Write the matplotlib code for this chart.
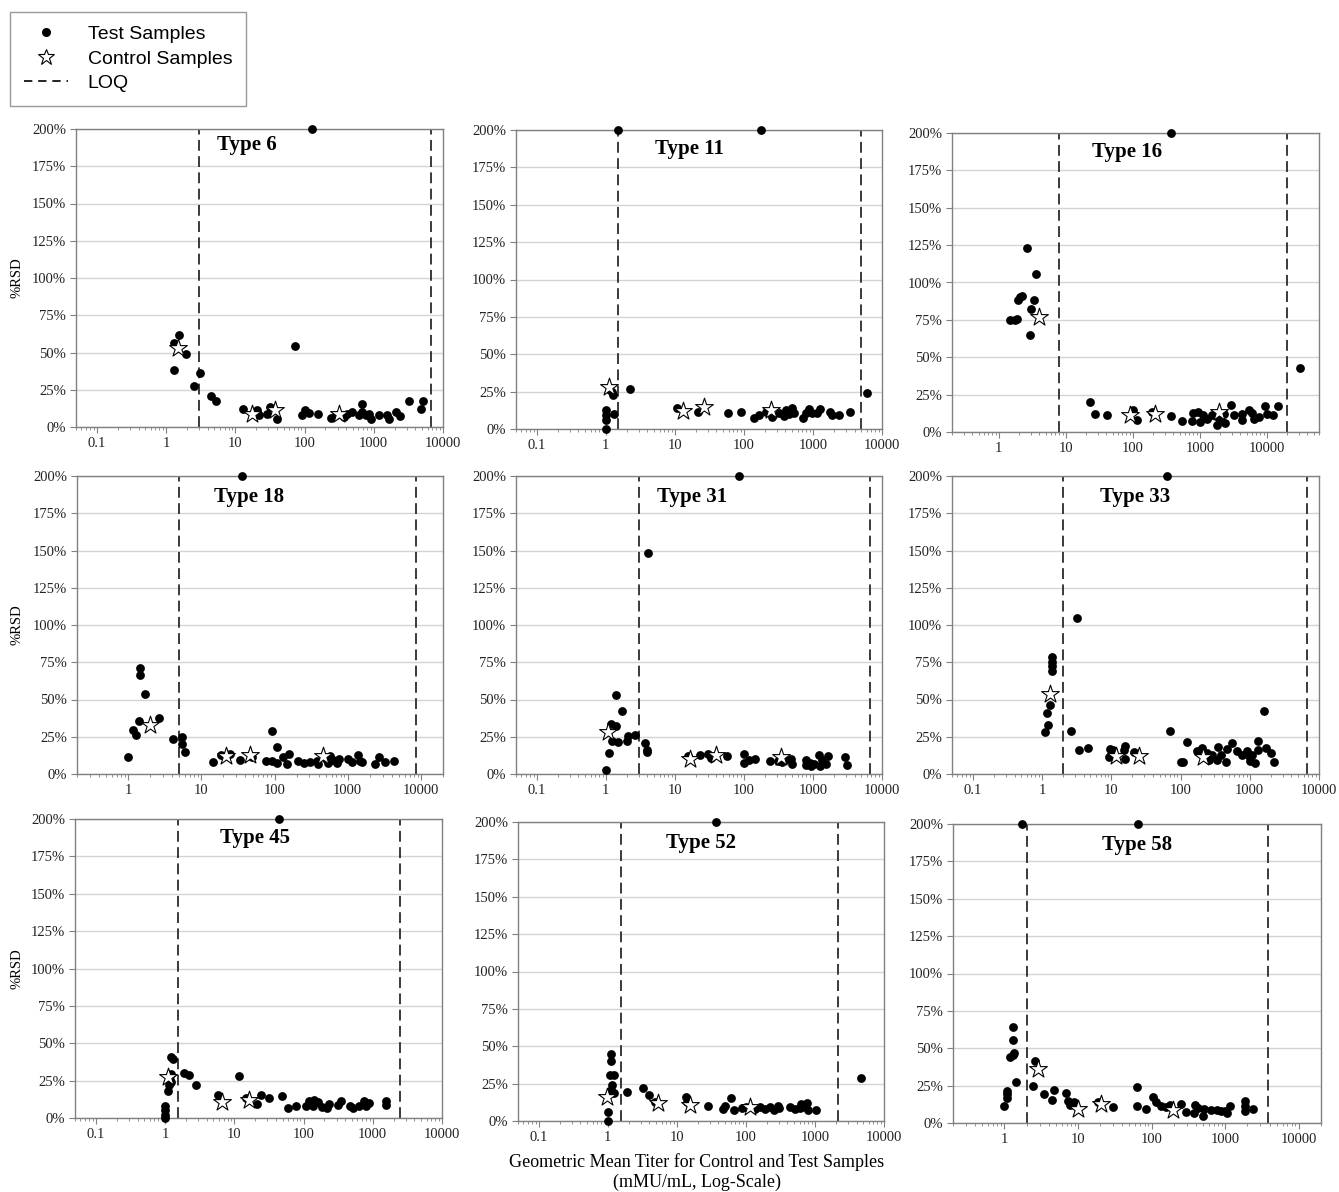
import matplotlib
matplotlib.use("Agg")
import matplotlib.pyplot as plt
from matplotlib.lines import Line2D
from matplotlib.ticker import FixedLocator, FuncFormatter, LogLocator, NullFormatter

# ---- data: titer (mMU/mL) and %RSD ----
# Type 6
type6_titer = [129, 1.32, 1.56, 1.95, 1.32, 2.54, 3.07, 4.52, 5.28, 12.8, 20.7, 21.8, 28.9, 32.2, 39.4,
               71.7, 92.5, 103, 116, 155, 238, 281, 370, 414, 489, 611, 682, 682, 762, 851, 920, 1188,
               1567, 1657, 2069, 2362, 3223, 4862, 5200]
type6_rsd = [200, 56.7, 62, 49, 38.3, 27.3, 36.5, 20.6, 17.5, 12.3, 11.2, 8.3, 8.5, 13.4, 5.6,
             54.2, 7.8, 11.6, 9.4, 8.5, 6.3, 7.8, 6.7, 8.5, 10, 7.8, 15.7, 10, 7.8, 9, 5.2, 7.8,
             7.8, 5.6, 10, 7.4, 17.5, 12.3, 17.5]
type6_ctrl_titer = [1.47, 17.5, 38, 313]
type6_ctrl_rsd = [53.3, 9, 11.6, 9]
type6_loq = [3.0, 6600]

# Type 11
type11_titer = [1.52, 178, 1.21, 1.25, 1.16, 2.22, 1, 1, 1, 1, 1.32, 10.9, 21.6, 59.3, 91.5, 140, 165,
                206, 257, 321, 379, 401, 447, 500, 528, 721, 780, 871, 973, 1148, 1283, 1792, 1894,
                2363, 3485, 6070]
type11_rsd = [200, 200, 25, 22.7, 26, 26.8, 12.7, 9.4, 6, 0, 9.8, 13.8, 11.6, 10.5, 11.1, 7.6, 9.4,
              11.6, 8.2, 10.5, 8.7, 12.7, 10, 14.3, 10.5, 7.1, 10.5, 13.4, 10.5, 10.5, 13.2, 11.6, 9.4,
              9.4, 11.6, 23.9]
type11_ctrl_titer = [1.12, 13.1, 26.4, 243]
type11_ctrl_rsd = [28.3, 12.3, 14.9, 12.7]
type11_loq = [1.5, 5000]

# Type 16
type16_titer = [372, 2.65, 3.57, 1.94, 2.18, 2.06, 3.37, 3.01, 1.46, 1.77, 1.84, 2.9, 30860, 22.7, 27.2,
                40.7, 99.6, 114, 191, 372, 550, 758, 803, 954, 1010, 1133, 1270, 1509, 1793, 1900,
                2256, 2380, 2937, 3186, 4240, 4240, 5330, 5980, 6340, 7520, 9250, 10000, 12300, 14450]
type16_rsd = [200, 123, 105.9, 88.5, 91.2, 90.3, 88.5, 82.5, 75.1, 74.7, 75.8, 65.1, 43, 20.1, 12.3,
              11.4, 14.9, 7.8, 13.4, 10.5, 7.1, 7.4, 12.7, 13.4, 6.7, 11.1, 8.9, 11.1, 4.5, 8.9,
              11.8, 6, 17.8, 11.1, 7.8, 11.8, 14.9, 12.7, 8.9, 10, 17.2, 12.3, 11.1, 17.4]
type16_ctrl_titer = [4.01, 90.8, 215, 1950]
type16_ctrl_rsd = [76.9, 11.1, 11.8, 13.4]
type16_loq = [8, 20000]

# Type 18
type18_titer = [36.1, 1, 1.17, 1.27, 1.4, 1.47, 1.47, 1.69, 2.62, 4.12, 5.36, 5.36, 6.01, 14.5, 18.3, 25.0,
                33.6, 49.5, 76.2, 91, 91, 109, 109, 131, 146, 157, 211, 252, 304, 375, 395, 503, 541,
                570, 634, 704, 765, 1000, 1128, 1393, 1467, 1547, 2351, 2693, 3222, 4323]
type18_rsd = [200, 11.4, 29.7, 26.1, 35.3, 71, 66.5, 53.6, 37.5, 23.4, 24.6, 20.3, 14.7, 8, 12.9, 13.6,
              9.6, 11.2, 8.9, 29, 8.5, 18.1, 7.4, 11.2, 6.7, 13.4, 8.5, 7.4, 8, 8.5, 6.9, 10, 7.4,
              12.3, 9.6, 7.4, 10, 10, 8, 12.5, 8.5, 8, 6.7, 11.2, 7.8, 8.9]
type18_ctrl_titer = [1.98, 21.6, 46, 453]
type18_ctrl_rsd = [33, 11.8, 12.9, 11.8]
type18_loq = [5, 8600]

# Type 31
type31_titer = [84.7, 4.14, 1, 1.12, 1.4, 1.74, 1.18, 1.4, 1.22, 1.52, 2.01, 2.13, 2.62, 3.66, 3.92, 3.92,
                15.5, 23.1, 30.2, 33, 56.1, 100, 100, 118, 147, 235, 310, 359, 400, 473, 500, 780, 805,
                899, 940, 1028, 1242, 1283, 1358, 1567, 1657, 2951, 3120]
type31_rsd = [200, 148, 2.9, 14.1, 53.1, 42.6, 33.5, 31.9, 21.9, 21.2, 21.9, 25.7, 26.3, 20.8, 16.3, 14.5,
              11.8, 12.5, 13.6, 10.7, 12.3, 13.4, 7.4, 9.6, 10, 8.9, 8.5, 7.8, 9.6, 10, 6.9, 9.6, 6.3,
              7.4, 5.1, 6.9, 12.9, 5.6, 9.6, 6.7, 12.3, 11.2, 6.3]
type31_ctrl_titer = [1.09, 16.6, 38.9, 339]
type31_ctrl_rsd = [27.9, 10, 12.9, 11.2]
type31_loq = [3.0, 6600]

# Type 33
type33_titer = [64.3, 3.21, 1.4, 1.4, 1.4, 1.4, 1.29, 1.19, 1.22, 1.09, 2.63, 3.39, 4.63, 9.73, 9.4, 10.5,
                15.7, 15.2, 16.0, 21.2, 70.3, 100, 108, 125, 175, 202, 244, 256, 288, 340, 351, 380,
                449, 464, 560, 662, 782, 923, 976, 1000, 1090, 1191, 1331, 1331, 1606, 1737, 2052, 2243]
type33_rsd = [200, 104.9, 78.8, 75.4, 72.5, 69.4, 46.4, 40.8, 32.6, 28.1, 28.6, 15.8, 17.4, 17, 11.2, 15.8,
              19, 16.3, 10.3, 14.5, 28.6, 8, 8, 21.4, 15.2, 17.4, 14.1, 9.6, 12.9, 9.6, 18.1, 12.5,
              8, 17, 20.8, 15.2, 12.9, 15.2, 11.8, 8.5, 12.9, 7.4, 15.8, 21.9, 42, 17.4, 14.1, 8]
type33_ctrl_titer = [1.32, 11.8, 25, 211]
type33_ctrl_rsd = [53.6, 12.3, 11.8, 11.2]
type33_loq = [2, 6700]

# Type 45
type45_titer = [43.6, 1, 1, 1, 1, 1.12, 1.14, 1.17, 1.23, 1.21, 1.21, 1.32, 1.88, 2.22, 2.84, 5.91, 11.8,
                14.7, 21.2, 24.7, 31.2, 48.7, 60.1, 77.6, 108, 121, 135, 143, 160, 182, 218, 236, 318,
                347, 474, 515, 640, 755, 800, 893, 1556, 1556]
type45_rsd = [200, 0, 2.2, 5.6, 8.2, 18.3, 22.3, 25.6, 23.9, 29.4, 40.6, 39.5, 30.1, 29, 21.9, 15.6, 27.9,
              13.4, 9.4, 15.6, 13.4, 14.5, 6.7, 7.8, 7.8, 11.1, 7.8, 12.3, 10.7, 7.1, 6.7, 9.4, 8.9,
              11.1, 8.2, 6.7, 7.8, 11.1, 7.8, 10, 11.6, 8.9]
type45_ctrl_titer = [1.12, 6.6, 16.4]
type45_ctrl_rsd = [27.2, 10.7, 11.8]
type45_loq = [1.55, 2500]

# Type 52
type52_titer = [37.2, 1, 1, 1.12, 1.12, 1.09, 1.22, 1.12, 1.15, 1.22, 1.9, 3.2, 3.91, 4.88, 13.7, 14, 27.9,
                45.9, 50.1, 61.3, 66.2, 87.4, 100, 136, 161, 190, 224, 251, 296, 305, 436, 515, 608,
                623, 718, 759, 801, 1025, 4579]
type52_rsd = [200, 0, 5.8, 44.5, 40.1, 30.7, 30.7, 20.7, 24.1, 18.5, 19.2, 21.8, 17.4, 12.9, 16.3, 12.9, 10,
              8, 10, 15.1, 7.3, 8.5, 9.6, 8, 9.6, 8, 9.6, 7.3, 10, 8.5, 9.6, 8, 8.5,
              11.1, 9.6, 12.2, 7.3, 7.3, 29]
type52_ctrl_titer = [0.98, 5.34, 15.7, 115]
type52_ctrl_rsd = [16.3, 11.8, 10.7, 9.6]
type52_loq = [1.55, 2130]

# Type 58
type58_titer = [1.71, 66.2, 1, 1.1, 1.1, 1.1, 1.19, 1.29, 1.33, 1.3, 1.3, 1.43, 2.41, 2.59, 3.4, 4.37, 4.75,
                6.84, 7.36, 7.76, 8.89, 18.5, 30.2, 63.4, 63.4, 84.1, 104, 115, 135, 158, 175, 252,
                289, 383, 372, 426, 498, 521, 646, 772, 885, 1000, 1067, 1173, 1842, 1842, 1842, 2389]
type58_rsd = [200, 200, 11.1, 21.6, 19.4, 16.7, 43.9, 45.7, 46.8, 55.7, 64.1, 27.4, 24.9, 41.2, 19.4, 15.6,
              21.8, 20, 14.5, 12.2, 13.8, 13.8, 10.5, 23.8, 11.1, 9.4, 17.4, 13.8, 11.1, 10.5, 12.2,
              12.7, 7.3, 12.2, 6.7, 10, 4.5, 9.4, 8.9, 8.9, 7.8, 8.2, 6.7, 11.6, 14.5, 11.1, 8.2, 9.6]
type58_ctrl_titer = [2.87, 9.87, 20.5, 198]
type58_ctrl_rsd = [36.3, 9.6, 12.7, 8.5]
type58_loq = [2.0, 3800]

panel_names = ["Type 6", "Type 11", "Type 16", "Type 18", "Type 31", "Type 33", "Type 45", "Type 52", "Type 58"]
x_ranges = [(0.05, 10000), (0.05, 10000), (0.2, 60000),
            (0.2, 20000), (0.05, 10000), (0.05, 10000),
            (0.05, 10000), (0.05, 10000), (0.2, 20000)]

panels = [
    (type6_titer, type6_rsd, type6_ctrl_titer, type6_ctrl_rsd, type6_loq),
    (type11_titer, type11_rsd, type11_ctrl_titer, type11_ctrl_rsd, type11_loq),
    (type16_titer, type16_rsd, type16_ctrl_titer, type16_ctrl_rsd, type16_loq),
    (type18_titer, type18_rsd, type18_ctrl_titer, type18_ctrl_rsd, type18_loq),
    (type31_titer, type31_rsd, type31_ctrl_titer, type31_ctrl_rsd, type31_loq),
    (type33_titer, type33_rsd, type33_ctrl_titer, type33_ctrl_rsd, type33_loq),
    (type45_titer, type45_rsd, type45_ctrl_titer, type45_ctrl_rsd, type45_loq),
    (type52_titer, type52_rsd, type52_ctrl_titer, type52_ctrl_rsd, type52_loq),
    (type58_titer, type58_rsd, type58_ctrl_titer, type58_ctrl_rsd, type58_loq),
]

# ---- layout (pixels: left, top, right, bottom) ----
W, H = 1339, 1192
rects_px = [(76, 129, 443, 427), (516, 130, 882, 429), (952, 133, 1319, 432),
            (77, 476, 443, 774), (516, 476, 882, 774), (952, 476, 1319, 774),
            (75, 819, 442, 1118), (518, 822, 884, 1121), (953, 824, 1321, 1123)]
title_pos = [(0.466, 0.946), (0.473, 0.936), (0.478, 0.937),
             (0.47, 0.931), (0.48, 0.931), (0.50, 0.931),
             (0.49, 0.936), (0.50, 0.93), (0.50, 0.93)]

SERIF = "Liberation Serif"
SANS = "Liberation Sans"
SPINE = "#808080"
GRID = "#d4d4d4"

fig = plt.figure(figsize=(W / 100, H / 100), dpi=100)

for i, (tx, ty, cx, cy, loq) in enumerate(panels):
    l, t, r, b = rects_px[i]
    ax = fig.add_axes([l / W, 1 - b / H, (r - l) / W, (b - t) / H])
    ax.set_xscale("log")
    ax.set_xlim(*x_ranges[i])
    ax.set_ylim(0, 200)

    ax.set_yticks(range(0, 201, 25))
    ax.yaxis.set_major_formatter(FuncFormatter(lambda v, p: f"{int(v)}%"))
    decades = [d for d in [0.1, 1, 10, 100, 1000, 10000] if x_ranges[i][0] <= d <= x_ranges[i][1]]
    ax.xaxis.set_major_locator(FixedLocator(decades))
    ax.xaxis.set_major_formatter(FuncFormatter(lambda v, p: f"{v:g}"))
    ax.xaxis.set_minor_locator(LogLocator(base=10, subs=(2, 3, 4, 5, 6, 7, 8, 9)))
    ax.xaxis.set_minor_formatter(NullFormatter())

    ax.grid(axis="y", color=GRID, lw=1.0, zorder=0)
    ax.set_axisbelow(True)
    for s in ax.spines.values():
        s.set_color(SPINE)
        s.set_linewidth(1.0)
    ax.tick_params(axis="both", which="major", direction="out", length=4, color=SPINE,
                   labelsize=10.5, labelcolor="#222222", pad=3)
    ax.tick_params(axis="x", which="minor", direction="out", length=2.5, color=SPINE)
    for lab in ax.get_xticklabels() + ax.get_yticklabels():
        lab.set_fontfamily(SERIF)

    for x in loq:
        ax.axvline(x, color="#2b2b2b", lw=1.3, linestyle=(0, (6, 3)), zorder=2)

    ax.scatter(tx, ty, s=40, color="black", zorder=3, clip_on=False, linewidths=0)
    ax.scatter(cx, cy, s=180, marker="*", facecolor="white", edgecolor="black",
               linewidths=0.8, zorder=4, clip_on=False)

    ax.text(title_pos[i][0], title_pos[i][1], panel_names[i], transform=ax.transAxes,
            ha="center", va="center", fontsize=15, fontweight="bold", family=SERIF)

# y labels for the left column
for yc in [278, 625, 969]:
    fig.text(17 / W, 1 - yc / H, "%RSD", rotation=90, ha="center", va="center",
             fontsize=10.5, family=SERIF)

# shared x label
fig.text(697 / W, 1 - 1172 / H, "Geometric Mean Titer for Control and Test Samples\n(mMU/mL, Log-Scale)",
         ha="center", va="center", fontsize=13, family=SERIF, linespacing=1.15)

# legend box in the top-left corner
handles = [
    Line2D([], [], ls="none", marker="o", color="black", markersize=5.5),
    Line2D([], [], ls="none", marker="*", markerfacecolor="white", markeredgecolor="black",
           markeredgewidth=0.8, markersize=12),
    Line2D([], [], color="black", lw=1.2, linestyle=(0, (5, 3.5))),
]
leg = fig.legend(handles, ["Test Samples", "Control Samples", "LOQ"], loc="upper left",
                 bbox_to_anchor=(10 / W, 1 - 12 / H), frameon=True, fancybox=False,
                 prop={"family": SANS, "size": 14}, handlelength=2.3, handletextpad=1.0,
                 labelspacing=0.35, borderpad=0.7, borderaxespad=0)
leg.get_frame().set_edgecolor(SPINE)
leg.get_frame().set_linewidth(1.0)

fig.savefig("out.png", dpi=100)
